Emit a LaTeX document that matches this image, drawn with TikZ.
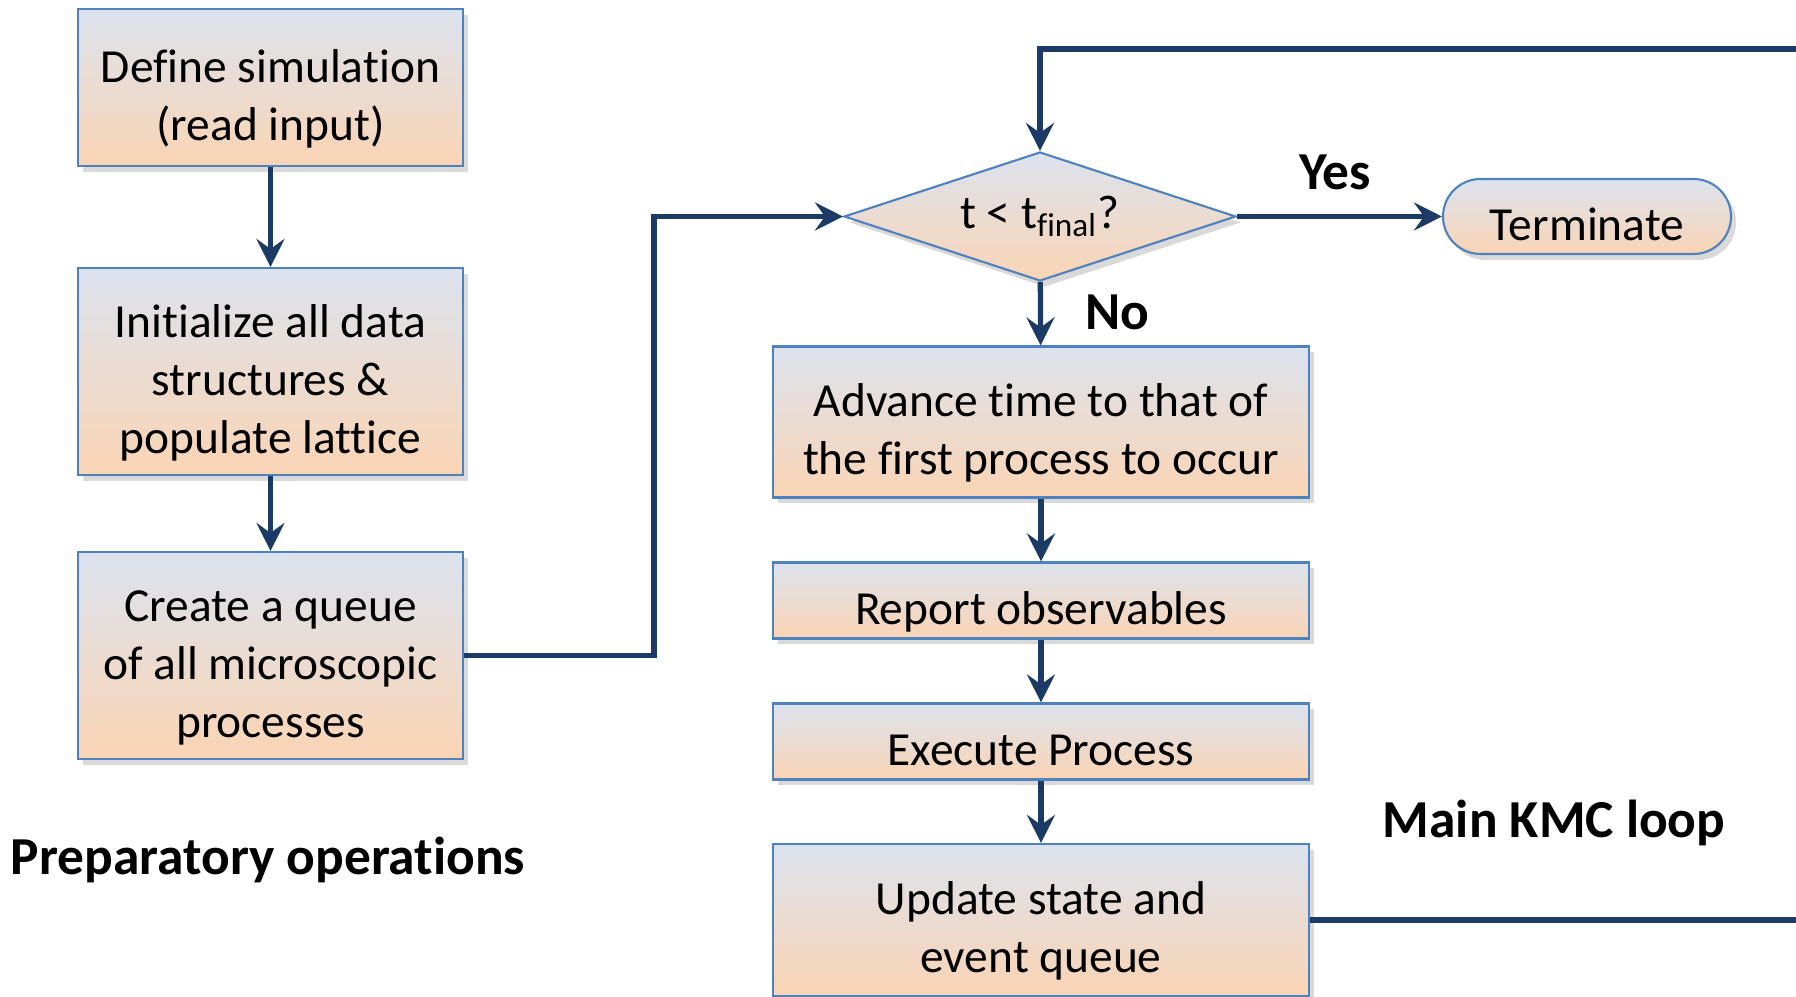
\documentclass[tikz,border=0pt]{standalone}
\usepackage{fontspec}
\setmainfont{Carlito}[Ligatures=NoCommon]
\usetikzlibrary{arrows.meta,shapes.geometric,shapes.misc,shadows}
\definecolor{boxtop}{HTML}{DCE3EF}
\definecolor{boxbot}{HTML}{FAD4B4}
\definecolor{boxline}{HTML}{4F81BD}
\definecolor{arrowblue}{HTML}{1B3A66}
% fixed top and bottom of the text, so that every box sets its text alike
\newcommand\tstrut{\rule{0pt}{17pt}}
\newcommand\dstrut{\rule[-3.4pt]{0pt}{0pt}}

\begin{document}
\begin{tikzpicture}[
  every node/.style={font=\fontsize{13.5}{16.5}\selectfont},
  flowbox/.style={draw=boxline, line width=0.6pt, top color=boxtop, bottom color=boxbot,
    align=center, inner sep=0pt,
    drop shadow={shadow xshift=0.5mm, shadow yshift=-0.6mm, opacity=0.3}},
  decision/.style={flowbox, diamond, aspect=3.04, minimum width=3.92cm, minimum height=1.29cm},
  flow/.style={draw=arrowblue, line width=1.5pt, -{Stealth[length=2.8mm,width=2.8mm,inset=1mm]}},
  tag/.style={font=\fontsize{15.2}{18}\selectfont\bfseries},
]
  \useasboundingbox (0,0) rectangle (17.96,-9.97);

  % preparatory operations
  \node[flowbox, minimum width=3.85cm, minimum height=1.57cm] (define) at (2.705,-0.875) {\tstrut Define simulation\\(read input)\dstrut};
  \node[flowbox, minimum width=3.85cm, minimum height=2.07cm] (init) at (2.705,-3.715) {\tstrut Initialize all data\\structures \&\\populate lattice\dstrut};
  \node[flowbox, minimum width=3.85cm, minimum height=2.07cm] (queue) at (2.705,-6.555) {\tstrut Create a queue\\of all microscopic\\processes\dstrut};
  \node[tag, anchor=base] (prep) at (2.68,-8.74) {Preparatory operations};

  % main loop
  \node[decision] (test) at (10.40,-2.165) {t < t\textsubscript{final}?};
  \node[flowbox, rounded rectangle, minimum width=2.88cm, minimum height=0.75cm] (stop) at (15.87,-2.165) {\tstrut Terminate\dstrut};
  \node[flowbox, minimum width=5.36cm, minimum height=1.51cm] (advance) at (10.41,-4.22) {\tstrut Advance time to that of\\the first process to occur\dstrut};
  \node[flowbox, minimum width=5.36cm, minimum height=0.76cm] (report) at (10.41,-6.005) {\tstrut Report observables\dstrut};
  \node[flowbox, minimum width=5.36cm, minimum height=0.76cm] (execute) at (10.41,-7.415) {\tstrut Execute Process\dstrut};
  \node[flowbox, minimum width=5.36cm, minimum height=1.52cm] (update) at (10.41,-9.20) {\tstrut Update state and\\event queue\dstrut};
  \node[tag] (yes) at (13.35,-1.72) {Yes};
  \node[tag] (no) at (11.17,-3.12) {No};
  \node[tag, anchor=base] (mainloop) at (15.54,-8.37) {Main KMC loop};

  \draw[flow] (define) -- (init);
  \draw[flow] (init) -- (queue);
  \draw[flow] (queue.east) -- ++(1.9,0) |- (test.west);
  \draw[flow] (test) -- (stop);
  \draw[flow] (test) -- (advance);
  \draw[flow] (advance) -- (report);
  \draw[flow] (report) -- (execute);
  \draw[flow] (execute) -- (update);
  \coordinate (loopcorner) at (18.0,-0.49);
  \draw[flow] (update.east) -| (loopcorner) -| (test.north);
\end{tikzpicture}
\end{document}
